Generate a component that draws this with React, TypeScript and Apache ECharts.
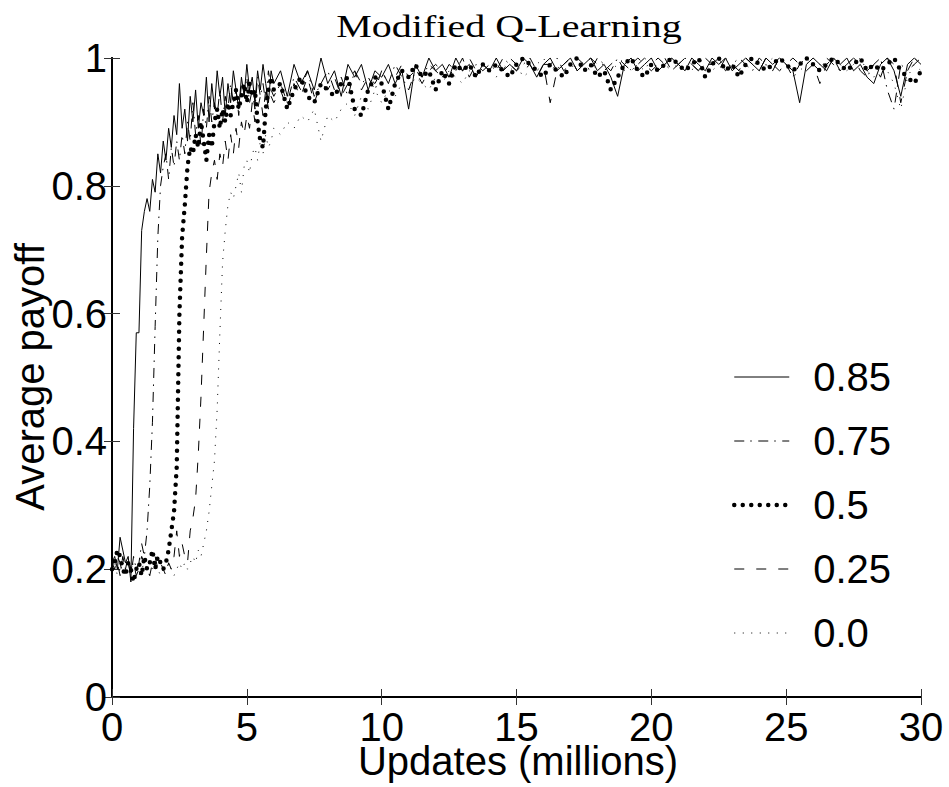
import React, { useEffect, useRef } from "react";
import * as echarts from "echarts";

// x positions (millions of updates)
const updates = [
  0, 0.1, 0.2, 0.3, 0.4, 0.5, 0.6, 0.7, 0.8, 0.9,
  1, 1.1, 1.2, 1.3, 1.4, 1.5, 1.6, 1.7, 1.8, 1.9,
  2, 2.1, 2.2, 2.3, 2.4, 2.5, 2.6, 2.7, 2.8, 2.9,
  3, 3.1, 3.2, 3.3, 3.4, 3.5, 3.6, 3.7, 3.8, 3.9,
  4, 4.1, 4.2, 4.3, 4.4, 4.5, 4.6, 4.7, 4.8, 4.9,
  5, 5.1, 5.2, 5.3, 5.4, 5.5, 5.6, 5.7, 5.8, 5.9,
  6,
  6.25, 6.5, 6.75, 7, 7.25, 7.5, 7.75, 8,
  8.25, 8.5, 8.75, 9, 9.25, 9.5, 9.75, 10,
  10.25, 10.5, 10.75, 11, 11.25, 11.5, 11.75, 12,
  12.25, 12.5, 12.75, 13, 13.25, 13.5, 13.75, 14,
  14.25, 14.5, 14.75, 15, 15.25, 15.5, 15.75, 16,
  16.25, 16.5, 16.75, 17, 17.25, 17.5, 17.75, 18,
  18.25, 18.5, 18.75, 19, 19.25, 19.5, 19.75, 20,
  20.25, 20.5, 20.75, 21, 21.25, 21.5, 21.75, 22,
  22.25, 22.5, 22.75, 23, 23.25, 23.5, 23.75, 24,
  24.25, 24.5, 24.75, 25, 25.25, 25.5, 25.75, 26,
  26.25, 26.5, 26.75, 27, 27.25, 27.5, 27.75, 28,
  28.25, 28.5, 28.75, 29, 29.25, 29.5, 29.75, 30,
];

const payoff085 = [
  0.21, 0.22, 0.20, 0.25, 0.23, 0.21, 0.22, 0.18, 0.42, 0.57,
  0.57, 0.73, 0.76, 0.78, 0.76, 0.81, 0.79, 0.85, 0.82, 0.87,
  0.84, 0.89, 0.86, 0.91, 0.88, 0.96, 0.89, 0.92, 0.87, 0.94,
  0.90, 0.95, 0.89, 0.93, 0.91, 0.97, 0.90, 0.96, 0.92, 0.98,
  0.94, 0.97, 0.91, 0.96, 0.93, 0.98, 0.95, 0.92, 0.97, 0.94,
  0.99, 0.95, 0.97, 0.93, 0.98, 0.95, 0.99, 0.96, 0.93, 0.98,
  0.96,
  0.98, 0.94, 0.99, 0.96, 0.98, 0.95, 1.0, 0.96,
  0.98, 0.94, 0.99, 0.97, 0.99, 0.95, 0.98, 0.97,
  0.99, 0.96, 0.98, 0.92, 0.99, 0.97, 1.0, 0.98,
  0.99, 0.97, 1.0, 0.98, 0.99, 0.97, 0.99, 0.98,
  1.0, 0.98, 0.99, 0.98, 1.0, 0.99, 0.97, 0.99,
  1.0, 0.98, 0.99, 1.0, 0.98, 0.99, 1.0, 0.98,
  0.99, 0.97, 0.94, 0.99, 1.0, 0.98, 0.99, 1.0,
  0.98, 0.99, 1.0, 0.99, 0.98, 1.0, 0.99, 0.98,
  1.0, 0.99, 1.0, 0.98, 0.99, 1.0, 0.99, 0.98,
  1.0, 0.99, 1.0, 0.99, 0.98, 0.93, 0.99, 1.0,
  0.99, 0.98, 1.0, 0.99, 1.0, 0.98, 0.99, 0.97,
  0.96, 0.99, 1.0, 0.98, 0.94, 0.99, 1.0, 0.99,
];

const payoff075 = [
  0.20, 0.22, 0.21, 0.19, 0.22, 0.20, 0.21, 0.19, 0.22, 0.20,
  0.21, 0.24, 0.22, 0.26, 0.33, 0.43, 0.58, 0.72, 0.80, 0.83,
  0.85, 0.81, 0.86, 0.83, 0.87, 0.84, 0.88, 0.85, 0.90, 0.87,
  0.93, 0.88, 0.91, 0.86, 0.92, 0.89, 0.94, 0.90, 0.93, 0.91,
  0.95, 0.90, 0.94, 0.92, 0.96, 0.93, 0.95, 0.91, 0.96, 0.94,
  0.97, 0.93, 0.95, 0.92, 0.97, 0.94, 0.96, 0.93, 0.98, 0.95,
  0.94,
  0.96, 0.93, 0.97, 0.95, 0.98, 0.94, 0.96, 0.98,
  0.95, 0.97, 0.94, 0.98, 0.96, 0.97, 0.95, 0.98,
  0.96, 0.99, 0.97, 0.95, 0.98, 0.97, 0.99, 0.98,
  0.97, 0.99, 0.98, 1.0, 0.97, 0.99, 0.98, 0.99,
  0.98, 1.0, 0.99, 0.98, 0.99, 1.0, 0.98, 0.99,
  0.99, 1.0, 0.98, 0.99, 1.0, 0.99, 0.98, 1.0,
  0.99, 0.98, 1.0, 0.99, 0.98, 0.99, 1.0, 0.99,
  1.0, 0.99, 0.98, 0.99, 1.0, 0.99, 0.98, 0.99,
  0.99, 1.0, 0.98, 0.99, 1.0, 0.99, 0.98, 1.0,
  0.99, 0.98, 1.0, 0.99, 0.97, 0.99, 1.0, 0.99,
  0.98, 1.0, 0.99, 0.98, 0.99, 1.0, 0.98, 0.97,
  0.99, 1.0, 0.95, 0.92, 0.99, 0.98, 1.0, 0.99,
];

const payoff050 = [
  0.20, 0.21, 0.23, 0.22, 0.20, 0.19, 0.21, 0.20, 0.18, 0.20,
  0.21, 0.19, 0.22, 0.20, 0.21, 0.23, 0.20, 0.22, 0.21, 0.20,
  0.21, 0.23, 0.26, 0.29, 0.36, 0.60, 0.72, 0.77, 0.83, 0.86,
  0.85, 0.88, 0.86, 0.90, 0.87, 0.84, 0.88, 0.86, 0.90, 0.92,
  0.89, 0.92, 0.90, 0.93, 0.91, 0.93, 0.95, 0.92, 0.94, 0.96,
  0.93, 0.96, 0.94, 0.95, 0.90, 0.87, 0.86, 0.92, 0.95, 0.97,
  0.95,
  0.96, 0.92, 0.95, 0.97, 0.94, 0.93, 0.96, 0.95,
  0.94, 0.96, 0.97, 0.92, 0.91, 0.95, 0.97, 0.96,
  0.92, 0.96, 0.98, 0.97, 0.99, 0.97, 0.98, 0.95,
  0.98, 0.96, 0.99, 0.98, 0.99, 0.97, 0.99, 0.98,
  0.99, 0.98, 0.97, 0.99, 1.0, 0.99, 0.98, 0.97,
  0.99, 0.98, 0.97, 0.99, 1.0, 0.98, 0.99, 0.97,
  0.98, 0.95, 0.97, 0.99, 1.0, 0.98, 0.97, 0.99,
  0.98, 0.99, 1.0, 0.99, 0.98, 0.99, 1.0, 0.97,
  0.99, 1.0, 0.98, 0.99, 0.97, 0.99, 1.0, 0.99,
  0.98, 0.99, 1.0, 0.99, 0.98, 0.99, 1.0, 0.99,
  0.98, 0.99, 1.0, 0.99, 0.98, 0.99, 1.0, 0.98,
  0.99, 0.98, 0.99, 1.0, 0.98, 0.97, 0.96, 0.98,
];

const payoff025 = [
  0.21, 0.20, 0.22, 0.21, 0.19, 0.20, 0.22, 0.20, 0.21, 0.19,
  0.20, 0.22, 0.21, 0.20, 0.19, 0.21, 0.22, 0.20, 0.21, 0.20,
  0.19, 0.21, 0.20, 0.22, 0.26, 0.22, 0.24, 0.22, 0.21, 0.26,
  0.28, 0.31, 0.38, 0.47, 0.58, 0.69, 0.79, 0.82, 0.84, 0.81,
  0.85, 0.83, 0.87, 0.84, 0.88, 0.85, 0.89, 0.86, 0.90, 0.88,
  0.91, 0.89, 0.93, 0.90, 0.92, 0.94, 0.91, 0.95, 0.92, 0.94,
  0.93,
  0.95, 0.92, 0.96, 0.94, 0.97, 0.93, 0.96, 0.95,
  0.97, 0.94, 0.96, 0.98, 0.95, 0.97, 0.96, 0.98,
  0.96, 0.97, 0.99, 0.97, 0.98, 0.96, 0.98, 0.99,
  0.98, 0.97, 0.99, 0.98, 1.0, 0.98, 0.99, 0.98,
  0.99, 0.98, 1.0, 0.99, 0.98, 0.99, 0.97, 0.99,
  0.93, 0.98, 0.99, 1.0, 0.98, 0.99, 1.0, 0.99,
  0.98, 0.99, 1.0, 0.98, 0.99, 1.0, 0.99, 0.98,
  0.99, 1.0, 0.98, 0.99, 1.0, 0.99, 0.98, 1.0,
  0.99, 0.98, 1.0, 0.99, 0.98, 1.0, 0.99, 0.98,
  1.0, 0.99, 0.98, 0.99, 1.0, 0.99, 0.98, 0.99,
  0.96, 0.99, 1.0, 0.98, 0.99, 1.0, 0.99, 0.98,
  0.99, 0.97, 1.0, 0.99, 0.93, 0.98, 0.99, 1.0,
];

const payoff000 = [
  0.20, 0.21, 0.19, 0.20, 0.21, 0.20, 0.19, 0.20, 0.21, 0.20,
  0.19, 0.20, 0.21, 0.20, 0.19, 0.20, 0.21, 0.20, 0.19, 0.20,
  0.20, 0.21, 0.20, 0.19, 0.20, 0.21, 0.20, 0.21, 0.20, 0.21,
  0.22, 0.21, 0.23, 0.22, 0.24, 0.26, 0.29, 0.33, 0.37, 0.45,
  0.57, 0.68, 0.73, 0.77, 0.79, 0.78, 0.80, 0.82, 0.79, 0.83,
  0.84, 0.82, 0.85, 0.86, 0.84, 0.87, 0.85, 0.88, 0.86, 0.87,
  0.89,
  0.88, 0.90, 0.89, 0.91, 0.90, 0.92, 0.87, 0.91,
  0.90, 0.92, 0.93, 0.91, 0.94, 0.92, 0.95, 0.93,
  0.95, 0.94, 0.96, 0.95, 0.97, 0.96, 0.95, 0.97,
  0.96, 0.98, 0.97, 0.96, 0.98, 0.97, 0.99, 0.98,
  0.97, 0.99, 0.98, 0.99, 0.97, 0.98, 0.99, 1.0,
  0.98, 0.99, 0.97, 0.98, 1.0, 0.99, 0.98, 0.99,
  0.99, 0.98, 0.99, 1.0, 0.98, 0.99, 0.98, 1.0,
  0.98, 0.99, 1.0, 0.98, 0.99, 0.98, 1.0, 0.99,
  0.98, 0.99, 1.0, 0.99, 0.98, 0.99, 1.0, 0.98,
  0.99, 1.0, 0.98, 0.99, 0.97, 0.98, 0.99, 1.0,
  0.99, 0.98, 1.0, 0.99, 0.98, 0.99, 1.0, 0.98,
  0.97, 0.99, 0.98, 0.96, 0.92, 0.97, 0.99, 0.98,
];

const seriesNames = ["0.85", "0.75", "0.5", "0.25", "0.0"];
const seriesValues = [payoff085, payoff075, payoff050, payoff025, payoff000];

const titleText = "Modified Q-Learning";
const xAxisTitle = "Updates (millions)";
const yAxisTitle = "Average payoff";

export default function App() {
  const ref = useRef<HTMLDivElement>(null);

  useEffect(() => {
    if (!ref.current) return;
    const chart = echarts.init(ref.current, null, { renderer: "svg" });
    const sans = "'Liberation Sans', Arial, Helvetica, sans-serif";
    const lineStyles: any[] = [
      { width: 1, type: "solid" },
      { width: 1, type: [10, 6, 1.5, 6.5] },
      { width: 4.5, type: [0, 8.5], cap: "round" },
      { width: 1, type: [10, 12] },
      { width: 1, type: [1, 7.5] },
    ];
    const series = seriesValues.map((vals, k) => ({
      name: seriesNames[k],
      type: "line",
      symbol: "none",
      showSymbol: false,
      silent: true,
      emphasis: { disabled: true },
      data: updates.slice(0, vals.length).map((x, i) => [x, vals[i]]),
      itemStyle: { color: "#000" },
      lineStyle: { color: "#000", ...lineStyles[k] },
    }));

    const tick = { show: true, inside: true, length: 8, lineStyle: { color: "#333", width: 1 } };
    const axisLine = { show: true, lineStyle: { color: "#000", width: 2 } };
    const big = { color: "#000", fontSize: 40, fontFamily: sans, lineHeight: 40 };
    const nameStyle = (text: string) => ({
      text,
      fontFamily: sans,
      fontSize: 40,
      fill: "#000",
      align: "center",
      verticalAlign: "middle",
      textAlign: "center",
      textVerticalAlign: "middle",
    });

    chart.setOption({
      animation: false,
      backgroundColor: "#fff",
      grid: { left: 112, right: 28, top: 58, bottom: 90, containLabel: false, outerBoundsMode: "none" },
      graphic: [
        {
          type: "text",
          x: 509,
          y: 26,
          scaleX: 1.25,
          silent: true,
          style: {
            text: titleText,
            fontFamily: "'Liberation Serif', 'Times New Roman', serif",
            fontSize: 32,
            fill: "#000",
            align: "center",
            verticalAlign: "middle",
            textAlign: "center",
            textVerticalAlign: "middle",
          },
        },
        { type: "text", x: 518, y: 761, silent: true, style: nameStyle(xAxisTitle) },
        { type: "text", x: 30, y: 377, rotation: Math.PI / 2, silent: true, style: nameStyle(yAxisTitle) },
      ],
      legend: {
        orient: "vertical",
        left: 727,
        top: 352,
        itemWidth: 55,
        itemHeight: 14,
        itemGap: 24,
        data: seriesNames,
        selectedMode: false,
        itemStyle: { opacity: 0, color: "transparent", borderWidth: 0 },
        lineStyle: { width: "inherit" },
        textStyle: { ...big, padding: [0, 0, 0, 19] },
      },
      xAxis: [
        {
          type: "value",
          min: 0,
          max: 30,
          interval: 5,
          position: "bottom",
          axisLine,
          axisTick: tick,
          splitLine: { show: false },
          axisLabel: { ...big, lineHeight: 34, margin: 13 },
        },
        {
          type: "value",
          min: 0,
          max: 30,
          interval: 5,
          position: "top",
          axisLine,
          axisTick: tick,
          splitLine: { show: false },
          axisLabel: { show: false },
        },
      ],
      yAxis: [
        {
          type: "value",
          min: 0,
          max: 1,
          interval: 0.2,
          position: "left",
          axisLine,
          axisTick: tick,
          splitLine: { show: false },
          axisLabel: { ...big, margin: 5 },
        },
        {
          type: "value",
          min: 0,
          max: 1,
          interval: 0.2,
          position: "right",
          axisLine,
          axisTick: tick,
          splitLine: { show: false },
          axisLabel: { show: false },
        },
      ],
      series,
    });
    return () => chart.dispose();
  }, []);

  return (
    <div
      ref={ref}
      style={{ position: "absolute", left: 0, top: 0, width: 949, height: 787, background: "#fff" }}
    />
  );
}
